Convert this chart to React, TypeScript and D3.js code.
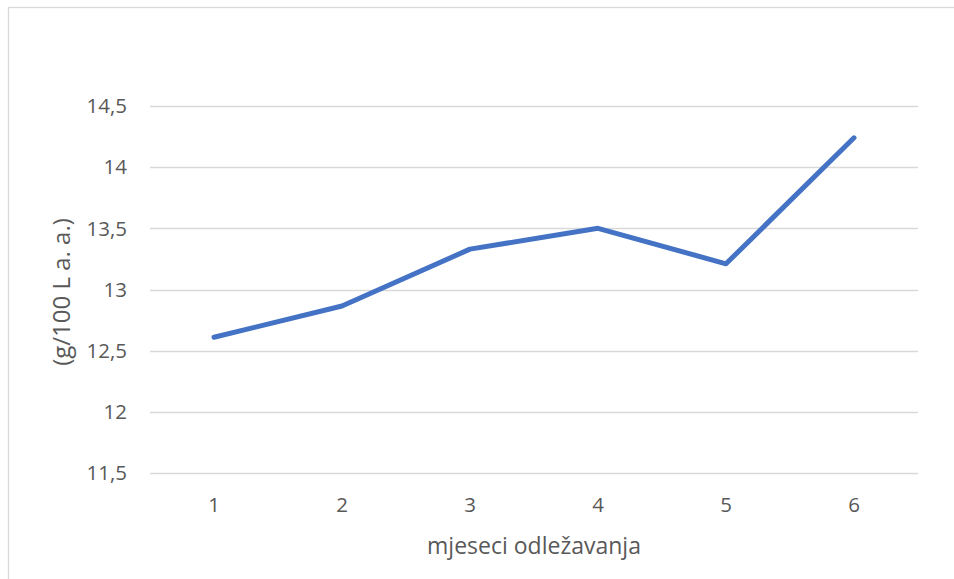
import React, { useEffect, useRef } from "react";
import * as d3 from "d3";

const months = ["1", "2", "3", "4", "5", "6"];
const values = [12.61, 12.865, 13.33, 13.5, 13.21, 14.24];
const yTicks = [11.5, 12, 12.5, 13, 13.5, 14, 14.5];

const svgWidth = 954;
const svgHeight = 579;
const plotLeft = 150;
const plotRight = 918;
const plotTop = 106;
const plotBottom = 473;

const textColor = "#595959";
const fontFam = "'Open Sans', sans-serif";

export default function App() {
  const ref = useRef<SVGSVGElement>(null);

  useEffect(() => {
    const svg = d3.select(ref.current);
    svg.selectAll("*").remove();

    // chart frame (only top + left edges show in the crop)
    svg.append("rect")
      .attr("x", 8.5)
      .attr("y", 7.5)
      .attr("width", svgWidth + 10)
      .attr("height", svgHeight + 10)
      .attr("fill", "white")
      .attr("stroke", "#d9d9d9")
      .attr("stroke-width", 1.3);

    const xScale = d3.scaleBand().domain(months).range([plotLeft, plotRight]);
    const yScale = d3.scaleLinear().domain([11.5, 14.5]).range([plotBottom, plotTop]);

    // gridlines
    svg.append("g")
      .selectAll("line")
      .data(yTicks)
      .enter()
      .append("line")
      .attr("x1", plotLeft)
      .attr("x2", plotRight)
      .attr("y1", (d: number) => Math.round(yScale(d)) + 0.5)
      .attr("y2", (d: number) => Math.round(yScale(d)) + 0.5)
      .attr("stroke", "#d9d9d9")
      .attr("stroke-width", 1.3);

    // y tick labels
    svg.append("g")
      .selectAll("text")
      .data(yTicks)
      .enter()
      .append("text")
      .text((d: number) => String(d).replace(".", ","))
      .attr("x", 127)
      .attr("y", (d: number) => yScale(d))
      .attr("dy", "0.35em")
      .attr("text-anchor", "end")
      .attr("font-family", fontFam)
      .attr("font-size", 20.5)
      .attr("fill", textColor);

    // x tick labels
    svg.append("g")
      .selectAll("text")
      .data(months)
      .enter()
      .append("text")
      .text((d: string) => d)
      .attr("x", (d: string) => (xScale(d) as number) + xScale.bandwidth() / 2)
      .attr("y", 504.5)
      .attr("dy", "0.35em")
      .attr("text-anchor", "middle")
      .attr("font-family", fontFam)
      .attr("font-size", 20.5)
      .attr("fill", textColor);

    // the series
    const line = d3.line<number>()
      .x((d, i) => (xScale(months[i]) as number) + xScale.bandwidth() / 2)
      .y((d) => yScale(d));

    svg.append("path")
      .datum(values)
      .attr("d", line)
      .attr("fill", "none")
      .attr("stroke", "#4472c4")
      .attr("stroke-width", 5)
      .attr("stroke-linecap", "round")
      .attr("stroke-linejoin", "round");

    // axis titles
    svg.append("text")
      .text("mjeseci odležavanja")
      .attr("x", 534)
      .attr("y", 546)
      .attr("dy", "0.35em")
      .attr("text-anchor", "middle")
      .attr("font-family", fontFam)
      .attr("font-size", 23)
      .attr("fill", textColor);

    svg.append("text")
      .text("(g/100 L a. a.)")
      .attr("transform", `translate(62, 292) rotate(-90)`)
      .attr("dy", "0.35em")
      .attr("text-anchor", "middle")
      .attr("font-family", fontFam)
      .attr("font-size", 24)
      .attr("fill", textColor);
  }, []);

  return (
    <svg
      ref={ref}
      width={svgWidth}
      height={svgHeight}
      style={{ position: "absolute", left: 0, top: 0, background: "white" }}
    />
  );
}
